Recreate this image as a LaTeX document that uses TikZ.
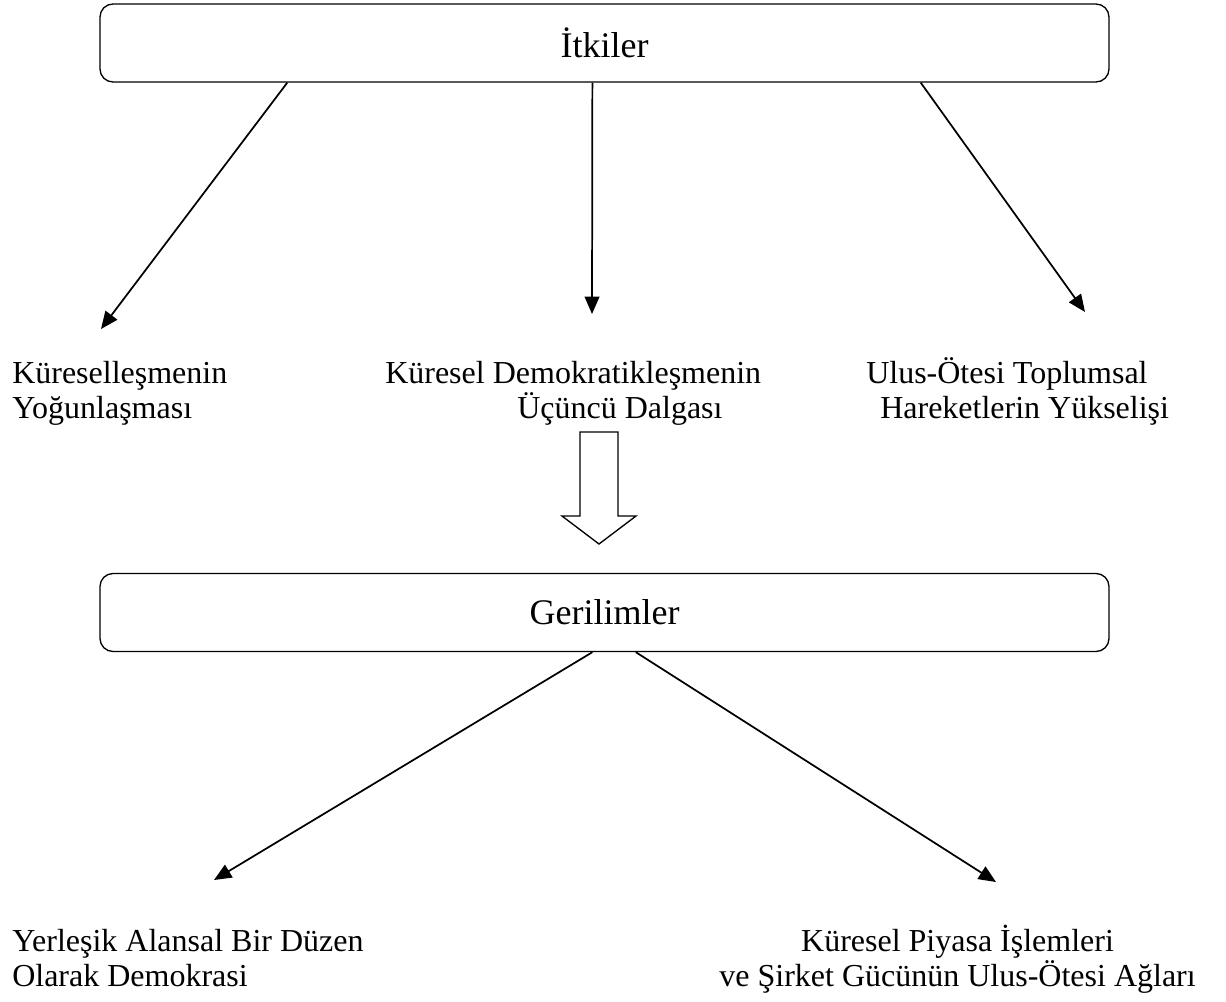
\documentclass[tikz,border=0pt]{standalone}
\usepackage{fontspec}
\setmainfont{Liberation Serif}
\usetikzlibrary{arrows.meta,calc}

\begin{document}
\begin{tikzpicture}[x=0.75pt,y=-0.75pt,
  kutu/.style={draw,line width=1pt,rounded corners=9.75pt,minimum width=756.75pt,
    minimum height=58.5pt,inner sep=0pt,font=\fontsize{27}{30}\selectfont},
  metin/.style={inner sep=0pt,font=\fontsize{24}{26.25}\selectfont},
  ok/.style={line width=1.3pt,-{Triangle[length=13pt,width=11pt]}},
  blok/.style={line width=1pt}]
\useasboundingbox (0,0) rectangle (1226,1001);

\node[kutu] (itkiler) at (604.5,43) {İtkiler};
\node[kutu] (gerilim) at (604.5,612.5) {Gerilimler};

% base = baseline of the last line
\node[metin,anchor=base west,align=left] (kure) at (12,418)
  {Küreselleşmenin\\Yoğunlaşması};
\node[metin,anchor=base west,align=left] (demo) at (385,418)
  {Küresel Demokratikleşmenin\\\hspace*{99pt}Üçüncü Dalgası};
\node[metin,anchor=base west,align=left] (ulus) at (866,418)
  {Ulus-Ötesi Toplumsal\\\hspace*{10.5pt}Hareketlerin Yükselişi};
\node[metin,anchor=base west,align=left] (yerl) at (12,986)
  {Yerleşik Alansal Bir Düzen\\Olarak Demokrasi};
\node[metin,anchor=base east,align=center] (piya) at (1196,986)
  {Küresel Piyasa İşlemleri\\ve Şirket Gücünün Ulus-Ötesi Ağları};

\coordinate (u1) at (101,329);
\coordinate (u2) at (592,314);
\coordinate (u3) at (1085,312);
\coordinate (a1) at (214,880);
\coordinate (a2) at (996,882);

\draw[ok] ($(itkiler.south west)!0.186!(itkiler.south east)$) -- (u1);
\draw[ok] ($(itkiler.south west)!0.488!(itkiler.south east)$) -- (u2);
\draw[ok] ($(itkiler.south west)!0.813!(itkiler.south east)$) -- (u3);
\draw[ok] ($(gerilim.south west)!0.488!(gerilim.south east)$) -- (a1);
\draw[ok] ($(gerilim.south west)!0.531!(gerilim.south east)$) -- (a2);

% hollow block arrow
\draw[blok] (580,432) -- (618,432) -- (618,516) -- (636,516) -- (599,544)
  -- (562,516) -- (580,516) -- cycle;
\end{tikzpicture}
\end{document}
